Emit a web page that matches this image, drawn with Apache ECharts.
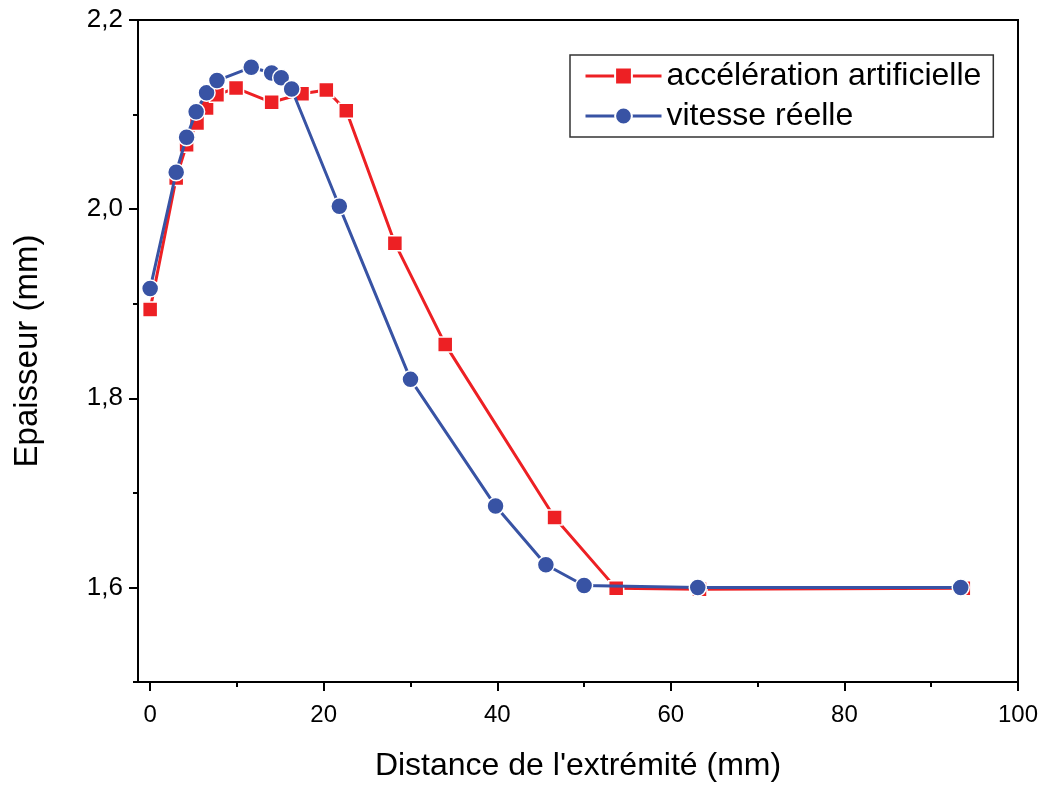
<!DOCTYPE html>
<html>
<head>
<meta charset="utf-8">
<script src="https://cdn.jsdelivr.net/npm/echarts@6/dist/echarts.min.js"></script>
<style>
  html, body { margin: 0; padding: 0; background: #fff; }
  #chart { width: 1044px; height: 787px; }
</style>
</head>
<body>
<div id="chart"></div>
<script>
// données
const accelX = [0, 3.0, 4.2, 5.4, 6.5, 7.7, 9.9, 14.0, 17.5, 20.3, 22.6, 28.2, 34.0, 46.6, 53.7, 63.3, 93.7];
const accelY = [1.894, 2.033, 2.068, 2.091, 2.107, 2.121, 2.128, 2.113, 2.122, 2.126, 2.104, 1.964, 1.857, 1.674, 1.599, 1.598, 1.599];
const vitesseX = [0, 3.0, 4.2, 5.3, 6.5, 7.7, 11.65, 14.0, 15.1, 16.3, 21.8, 30.0, 39.8, 45.6, 50.0, 63.1, 93.4];
const vitesseY = [1.916, 2.039, 2.076, 2.103, 2.123, 2.136, 2.150, 2.144, 2.139, 2.127, 2.003, 1.820, 1.686, 1.624, 1.602, 1.600, 1.600];

const xMajor = [0, 20, 40, 60, 80, 100];
const xMinor = [10, 30, 50, 70, 90];
const yMajor = [1.6, 1.8, 2.0, 2.2];
const yMinor = [1.5, 1.7, 1.9, 2.1];

const chart = echarts.init(document.getElementById("chart"));

const font = "'Liberation Sans', Arial, sans-serif";

function zip(xs, ys) {
  return xs.map((x, i) => [x, ys[i]]);
}

const xBase = { type: "value", min: -1.4, max: 100, position: "bottom", offset: 0, splitLine: { show: false } };
const yBase = { type: "value", min: 1.5, max: 2.2, position: "left", offset: 0, splitLine: { show: false } };

chart.setOption({
  animation: false,
  backgroundColor: "#fff",
  grid: {
    left: 138, right: 26, top: 20, bottom: 103,
    show: true, borderColor: "#000", borderWidth: 2
  },
  legend: {
    left: 570, top: 55,
    orient: "vertical",
    padding: [5, 12, 5, 14],
    itemGap: 8,
    itemWidth: 76, itemHeight: 21,
    borderColor: "#333", borderWidth: 1.5,
    lineStyle: { width: 3 },
    textStyle: { fontFamily: font, fontSize: 32, color: "#000" },
    data: ["accélération artificielle", "vitesse réelle"]
  },
  xAxis: [
    Object.assign({}, xBase, {
      name: "Distance de l'extrémité (mm)",
      nameLocation: "middle",
      nameGap: 68,
      nameTextStyle: { fontFamily: font, fontSize: 32, color: "#000" },
      axisLine: { onZero: false, lineStyle: { color: "#000", width: 2 } },
      axisTick: { show: true, inside: false, length: 9, lineStyle: { width: 2, color: "#000" }, customValues: xMajor },
      axisLabel: { fontFamily: font, fontSize: 24, color: "#000", margin: 21, customValues: xMajor }
    }),
    Object.assign({}, xBase, {
      axisLine: { show: false, onZero: false },
      axisTick: { show: true, inside: false, length: 5, lineStyle: { width: 2, color: "#000" }, customValues: xMinor },
      axisLabel: { show: false }
    })
  ],
  yAxis: [
    Object.assign({}, yBase, {
      name: "Epaisseur (mm)",
      nameLocation: "middle",
      nameGap: 94,
      nameTextStyle: { fontFamily: font, fontSize: 33, color: "#000" },
      axisLine: { onZero: false, lineStyle: { color: "#000", width: 2 } },
      axisTick: { show: true, inside: false, length: 9, lineStyle: { width: 2, color: "#000" }, customValues: yMajor },
      axisLabel: {
        fontFamily: font, fontSize: 26, color: "#000", margin: 15, customValues: yMajor,
        formatter: v => v.toFixed(1).replace(".", ",")
      }
    }),
    Object.assign({}, yBase, {
      axisLine: { show: false, onZero: false },
      axisTick: { show: true, inside: false, length: 5, lineStyle: { width: 2, color: "#000" }, customValues: yMinor },
      axisLabel: { show: false }
    })
  ],
  series: [
    {
      name: "accélération artificielle",
      type: "line",
      data: zip(accelX, accelY),
      symbol: "rect",
      symbolSize: 15,
      lineStyle: { color: "#ED2024", width: 3 },
      itemStyle: { color: "#ED2024", borderColor: "#fff", borderWidth: 1.5 },
      z: 2
    },
    {
      name: "vitesse réelle",
      type: "line",
      data: zip(vitesseX, vitesseY),
      symbol: "circle",
      symbolSize: 17,
      lineStyle: { color: "#3853A4", width: 3 },
      itemStyle: { color: "#3853A4", borderColor: "#fff", borderWidth: 1.5 },
      z: 3
    }
  ]
});
</script>
</body>
</html>
